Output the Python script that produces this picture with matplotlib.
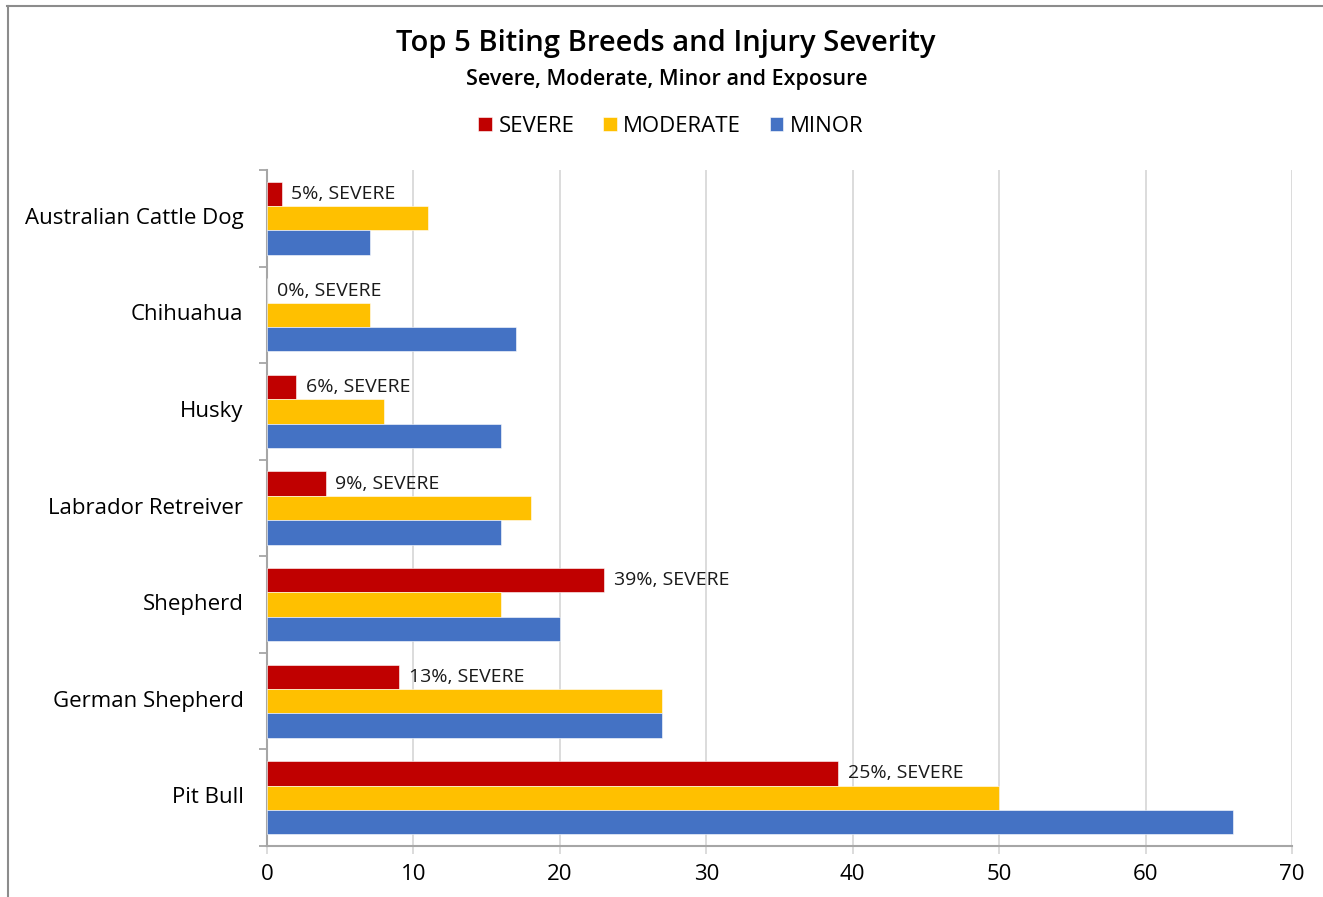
import matplotlib
matplotlib.use("Agg")
import matplotlib.pyplot as plt
from matplotlib.lines import Line2D

plt.rcParams['font.family'] = ['Open Sans', 'DejaVu Sans']

categories = ["Pit Bull", "German Shepherd", "Shepherd", "Labrador Retreiver",
              "Husky", "Chihuahua", "Australian Cattle Dog"]
severe = [39, 9, 23, 4, 2, 0, 1]
moderate = [50, 27, 16, 18, 8, 7, 11]
minor = [66, 27, 20, 16, 16, 17, 7]
severe_pct = ["25%", "13%", "39%", "9%", "6%", "0%", "5%"]
series_names = ["SEVERE", "MODERATE", "MINOR"]
colors = ["#C00000", "#FFC000", "#4472C4"]
xticks = [0, 10, 20, 30, 40, 50, 60, 70]

W, H = 1323, 897
fig = plt.figure(figsize=(W / 100, H / 100), dpi=100)

# outer chart border (top and left visible)
fig.add_artist(Line2D([7 / W, 1], [1 - 6.5 / H, 1 - 6.5 / H], color="#8C8C8C", lw=1.5))
fig.add_artist(Line2D([7.5 / W, 7.5 / W], [0, 1 - 6.5 / H], color="#8C8C8C", lw=1.5))

ax = fig.add_axes([267 / W, 1 - 846 / H, (1292 - 267) / W, (846 - 170) / H])

h = 0.252
ys = list(range(len(categories)))
for vals, off, col, name in zip([severe, moderate, minor], [h, 0, -h], colors, series_names):
    ax.barh([y + off for y in ys], vals, height=h, color=col, label=name,
            edgecolor="white", linewidth=0.4, zorder=3)

for y, v, p in zip(ys, severe, severe_pct):
    ax.annotate(f"{p}, SEVERE", xy=(v, y + h), xytext=(7, 0), textcoords="offset points",
                ha="left", va="center", fontsize=14, color="#1a1a1a", zorder=4)

ax.set_xlim(0, 70)
ax.set_ylim(-0.5, len(categories) - 0.5)
ax.set_xticks(xticks)
ax.set_xticklabels([str(t) for t in xticks], fontsize=16)
ax.set_yticks(ys)
ax.set_yticklabels(categories, fontsize=16, va="center")
for lbl in ax.get_yticklabels():
    lbl.set_y(lbl.get_position()[1])
ax.set_yticks([y - 0.5 for y in range(len(categories) + 1)], minor=True)
ax.tick_params(axis="y", which="major", length=0, pad=17)
ax.tick_params(axis="y", which="minor", length=6, width=1.3, color="#A6A6A6")
ax.tick_params(axis="x", which="major", length=6, width=1.3, color="#D9D9D9", pad=7)
ax.grid(axis="x", color="#D9D9D9", linewidth=1.3, zorder=0)
ax.set_axisbelow(True)
for s in ["top", "right"]:
    ax.spines[s].set_visible(False)
ax.spines["left"].set_color("#A6A6A6")
ax.spines["left"].set_linewidth(1.5)
ax.spines["bottom"].set_color("#A6A6A6")
ax.spines["bottom"].set_linewidth(1.5)

fig.text(666 / W, 1 - 44 / H, "Top 5 Biting Breeds and Injury Severity", ha="center", va="center",
         fontsize=21, fontweight="semibold")
fig.text(667 / W, 1 - 79 / H, "Severe, Moderate, Minor and Exposure", ha="center", va="center",
         fontsize=15.5, fontweight="semibold")

handles, labels = ax.get_legend_handles_labels()
leg = fig.legend(handles, labels, loc="center", bbox_to_anchor=(671 / W, 1 - 126 / H), ncol=3,
                 frameon=False, fontsize=16, handlelength=0.6, handleheight=0.6,
                 handletextpad=0.3, columnspacing=1.3)

fig.savefig("out.png", dpi=100)
